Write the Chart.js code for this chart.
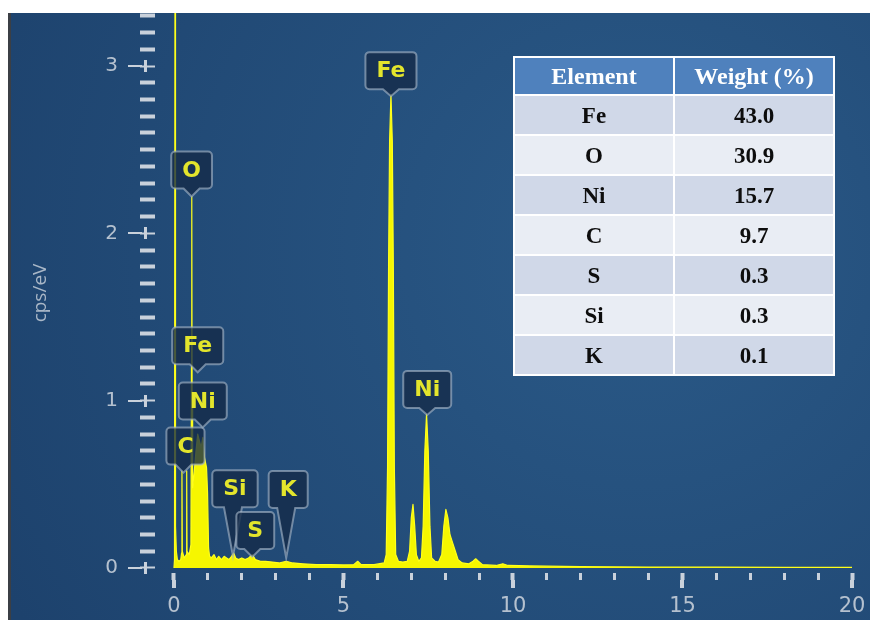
<!DOCTYPE html>
<html>
<head>
<meta charset="utf-8">
<title>EDS spectrum</title>
<script src="https://cdn.jsdelivr.net/npm/chart.js@4.4.1/dist/chart.umd.min.js"></script>
<style>
  html, body { margin: 0; padding: 0; background: #ffffff; }
  #wrap { position: relative; width: 870px; height: 620px; overflow: hidden; }
  #spectrum { display: block; }
  #composition {
    position: absolute; left: 513px; top: 56px; width: 322px;
    border-collapse: collapse; table-layout: fixed;
    font-family: "Liberation Serif", "Times New Roman", serif;
    font-weight: bold; font-size: 23px; color: #0d0d0d;
  }
  #composition th, #composition td {
    border: 2px solid #ffffff; text-align: center; vertical-align: middle;
    padding: 0; line-height: 1;
  }
  #composition th { background: #4f81bd; color: #ffffff; height: 36px; font-weight: bold; font-size: 24px; }
  #composition td { height: 38px; }
  #composition tr.band1 td { background: #d0d8e8; }
  #composition tr.band2 td { background: #e9edf4; }
</style>
</head>
<body>
<div id="wrap">
  <canvas id="spectrum" width="870" height="620"></canvas>
  <table id="composition"></table>
</div>
<script>
// ---- Spectrum: photon energy (keV) and intensity (cps/eV) ----
const energyKeV = [
  0.00, 0.015, 0.03, 0.045, 0.07, 0.10, 0.15, 0.20, 0.225, 0.235, 0.245, 0.30,
  0.365, 0.375, 0.385, 0.45, 0.50, 0.515, 0.525, 0.535, 0.55, 0.60, 0.65, 0.70,
  0.75, 0.80, 0.85, 0.90, 0.96, 0.99, 1.02, 1.05, 1.10, 1.18, 1.25, 1.32, 1.40,
  1.48, 1.55, 1.62, 1.70, 1.76, 1.82, 1.90, 2.00, 2.10, 2.20, 2.31, 2.40, 2.55,
  2.70, 2.90, 3.10, 3.31, 3.50, 3.80, 4.20, 4.60, 5.00, 5.30, 5.42, 5.52, 5.90,
  6.20, 6.26, 6.30, 6.33, 6.36, 6.40, 6.44, 6.47, 6.50, 6.54, 6.62, 6.75, 6.88,
  6.95, 7.00, 7.05, 7.10, 7.15, 7.22, 7.30, 7.35, 7.40, 7.45, 7.50, 7.55, 7.60,
  7.70, 7.80, 7.90, 7.96, 8.02, 8.08, 8.14, 8.22, 8.30, 8.38, 8.50, 8.70, 8.82,
  8.90, 8.98, 9.10, 9.50, 9.70, 9.85, 10.5, 12.0, 14.0, 16.0, 18.0, 20.0
];
const intensity = [
  0.00, 0.05, 3.60, 0.25, 0.10, 0.05, 0.04, 0.05, 0.09, 0.58, 0.10, 0.06,
  0.08, 0.58, 0.10, 0.08, 0.14, 1.20, 2.22, 1.00, 0.48, 0.58, 0.70, 0.80,
  0.76, 0.72, 0.78, 0.66, 0.60, 0.45, 0.12, 0.07, 0.06, 0.08, 0.05, 0.07, 0.05,
  0.07, 0.06, 0.05, 0.07, 0.09, 0.06, 0.05, 0.06, 0.05, 0.06, 0.08, 0.05, 0.04,
  0.04, 0.035, 0.03, 0.04, 0.03, 0.025, 0.02, 0.02, 0.018, 0.02, 0.04, 0.02, 0.02,
  0.03, 0.08, 0.60, 1.80, 2.55, 2.83, 2.55, 1.80, 0.60, 0.08, 0.04, 0.035, 0.04,
  0.10, 0.30, 0.38, 0.25, 0.08, 0.04, 0.06, 0.25, 0.70, 0.92, 0.70, 0.25, 0.06,
  0.04, 0.035, 0.08, 0.25, 0.35, 0.30, 0.20, 0.15, 0.10, 0.05, 0.03, 0.025, 0.04,
  0.055, 0.04, 0.02, 0.015, 0.025, 0.015, 0.012, 0.008, 0.006, 0.005, 0.004, 0.004
];

// ---- Identified lines: element, energy (keV), marker height (cps/eV) ----
const lineElement = ['C', 'O', 'Fe', 'Ni', 'Si', 'S', 'K', 'Fe', 'Ni'];
const lineEnergy  = [0.28, 0.52, 0.70, 0.85, 1.74, 2.31, 3.31, 6.40, 7.47];
const lineMarker  = [0.57, 2.22, 1.17, 0.84, 0.07, 0.066, 0.06, 2.82, 0.915];

// ---- Quantification table ----
const tableHeader  = ['Element', 'Weight (%)'];
const tableElement = ['Fe', 'O', 'Ni', 'C', 'S', 'Si', 'K'];
const tableWeight  = ['43.0', '30.9', '15.7', '9.7', '0.3', '0.3', '0.1'];

// ---- Axis tick labels ----
const xAxisLabels = ['0', '5', '10', '15', '20'];
const yAxisLabels = ['0', '1', '2', '3'];

const TICK_COLOR = '#c9d1db';
const LABEL_COLOR = '#b5c1cf';
const isWhole = v => Math.abs(v - Math.round(v)) < 1e-6;

// Dark blue panel behind the plot
const panelPlugin = {
  id: 'panel',
  beforeDraw(chart) {
    const { ctx, width, height } = chart;
    ctx.save();
    const g = ctx.createRadialGradient(640, 250, 20, 640, 250, 720);
    g.addColorStop(0, '#2a5987');
    g.addColorStop(1, '#1d426d');
    ctx.fillStyle = g;
    ctx.fillRect(10, 13, width - 10, height - 13);
    ctx.fillStyle = '#3b3f45';
    ctx.fillRect(8, 13, 3, height - 13);
    ctx.restore();
  }
};

// Longer marks on the labelled ticks
const majorTickPlugin = {
  id: 'majorTicks',
  afterDraw(chart) {
    const { ctx, scales: { x, y } } = chart;
    ctx.save();
    ctx.fillStyle = TICK_COLOR;
    yAxisLabels.forEach(lbl => {
      const py = Math.round(y.getPixelForValue(Number(lbl)));
      ctx.fillRect(y.right - 27, py - 1, 14, 2);
      ctx.fillRect(y.right - 11, py - 6, 3, 12);
    });
    xAxisLabels.forEach(lbl => {
      const px = Math.round(x.getPixelForValue(Number(lbl)));
      ctx.fillRect(px - 2, x.top + 7, 4, 8);
    });
    ctx.restore();
  }
};

// Element callouts with pointers to the lines
const calloutPlugin = {
  id: 'callouts',
  afterDatasetsDraw(chart, args, opts) {
    const { ctx, scales: { x, y } } = chart;
    ctx.save();
    ctx.font = 'bold 22px "DejaVu Sans", sans-serif';
    lineElement.forEach((el, i) => {
      const tx = x.getPixelForValue(lineEnergy[i]);
      const ty = y.getPixelForValue(lineMarker[i]);
      const lift = opts.lift[i];
      const cx = tx + opts.shift[i];
      const w = ctx.measureText(el).width + 22;
      const h = 37;
      const bottom = ty - lift;
      const top = bottom - h;
      const left = cx - w / 2, right = cx + w / 2;
      const half = lift > 20 ? 9 : 8;
      const r = 4;
      ctx.beginPath();
      ctx.moveTo(left + r, top);
      ctx.lineTo(right - r, top);
      ctx.arcTo(right, top, right, top + r, r);
      ctx.lineTo(right, bottom - r);
      ctx.arcTo(right, bottom, right - r, bottom, r);
      ctx.lineTo(tx + half, bottom);
      ctx.lineTo(tx, ty);
      ctx.lineTo(tx - half, bottom);
      ctx.lineTo(left + r, bottom);
      ctx.arcTo(left, bottom, left, bottom - r, r);
      ctx.lineTo(left, top + r);
      ctx.arcTo(left, top, left + r, top, r);
      ctx.closePath();
      ctx.fillStyle = 'rgba(20,42,72,0.78)';
      ctx.fill();
      ctx.strokeStyle = 'rgba(168,184,202,0.62)';
      ctx.lineWidth = 2;
      ctx.stroke();
      ctx.fillStyle = '#e3e52c';
      ctx.textAlign = 'center';
      ctx.textBaseline = 'middle';
      ctx.fillText(el, cx, top + h / 2 + 1);
    });
    ctx.restore();
  }
};

const points = energyKeV.map((e, i) => ({ x: e, y: intensity[i] }));

new Chart(document.getElementById('spectrum'), {
  type: 'line',
  data: {
    datasets: [{
      data: points,
      borderColor: '#ffff1a',
      backgroundColor: '#f6f600',
      borderWidth: 1.2,
      borderJoinStyle: 'round',
      pointRadius: 0,
      tension: 0,
      fill: 'origin'
    }]
  },
  options: {
    responsive: false,
    animation: false,
    devicePixelRatio: 1,
    layout: { padding: { left: 0, right: 18, top: 13, bottom: 0 } },
    plugins: {
      legend: { display: false },
      tooltip: { enabled: false },
      callouts: {
        lift:  [8, 8, 8, 8, 49, 8, 50, 7, 7],
        shift: [2, 0, 0, 0, 2, 3, 2, 0, 0]
      }
    },
    scales: {
      x: {
        type: 'linear',
        min: -0.56,
        max: 20,
        border: { display: false },
        grid: {
          drawOnChartArea: false,
          tickLength: 7,
          tickColor: TICK_COLOR,
          tickWidth: c => (isWhole(c.tick.value / 5) ? 4 : 3)
        },
        afterBuildTicks: s => {
          const last = Number(xAxisLabels[xAxisLabels.length - 1]);
          const t = [];
          for (let v = 0; v <= last; v++) t.push({ value: v });
          s.ticks = t;
        },
        afterFit: s => {
          s.height = 47;
          s.paddingLeft = 0;
          s.paddingRight = 0;
        },
        ticks: {
          autoSkip: false,
          maxRotation: 0,
          padding: 14,
          color: LABEL_COLOR,
          font: { family: '"DejaVu Sans", sans-serif', size: 21 },
          callback: v => (xAxisLabels.includes(String(v)) ? String(v) : '')
        }
      },
      y: {
        type: 'linear',
        min: -0.03,
        max: 3.317,
        border: { display: false },
        grid: {
          drawOnChartArea: false,
          tickLength: 15,
          tickColor: TICK_COLOR,
          tickWidth: c => (isWhole(c.tick.value) ? 2 : 4)
        },
        afterBuildTicks: s => {
          const t = [];
          for (let k = 0; k <= 33; k++) t.push({ value: k / 10 });
          s.ticks = t;
        },
        afterFit: s => {
          s.width = 155;
          s.paddingTop = 0;
          s.paddingBottom = 0;
        },
        title: {
          display: true,
          text: 'cps/eV',
          color: '#a9b7c7',
          font: { family: '"Open Sans", sans-serif', size: 19 },
          padding: { top: 29, bottom: 0 }
        },
        ticks: {
          autoSkip: false,
          padding: 22,
          color: LABEL_COLOR,
          font: { family: '"DejaVu Sans", sans-serif', size: 20 },
          callback: v => (isWhole(v) && yAxisLabels.includes(String(Math.round(v))) ? String(Math.round(v)) : '')
        }
      }
    }
  },
  plugins: [panelPlugin, majorTickPlugin, calloutPlugin]
});

// Build the composition table
(function buildTable() {
  const table = document.getElementById('composition');
  const head = document.createElement('tr');
  tableHeader.forEach(h => {
    const th = document.createElement('th');
    th.textContent = h;
    head.appendChild(th);
  });
  table.appendChild(head);
  tableElement.forEach((el, i) => {
    const tr = document.createElement('tr');
    tr.className = i % 2 === 0 ? 'band1' : 'band2';
    [el, tableWeight[i]].forEach(txt => {
      const td = document.createElement('td');
      td.textContent = txt;
      tr.appendChild(td);
    });
    table.appendChild(tr);
  });
})();
</script>
</body>
</html>
